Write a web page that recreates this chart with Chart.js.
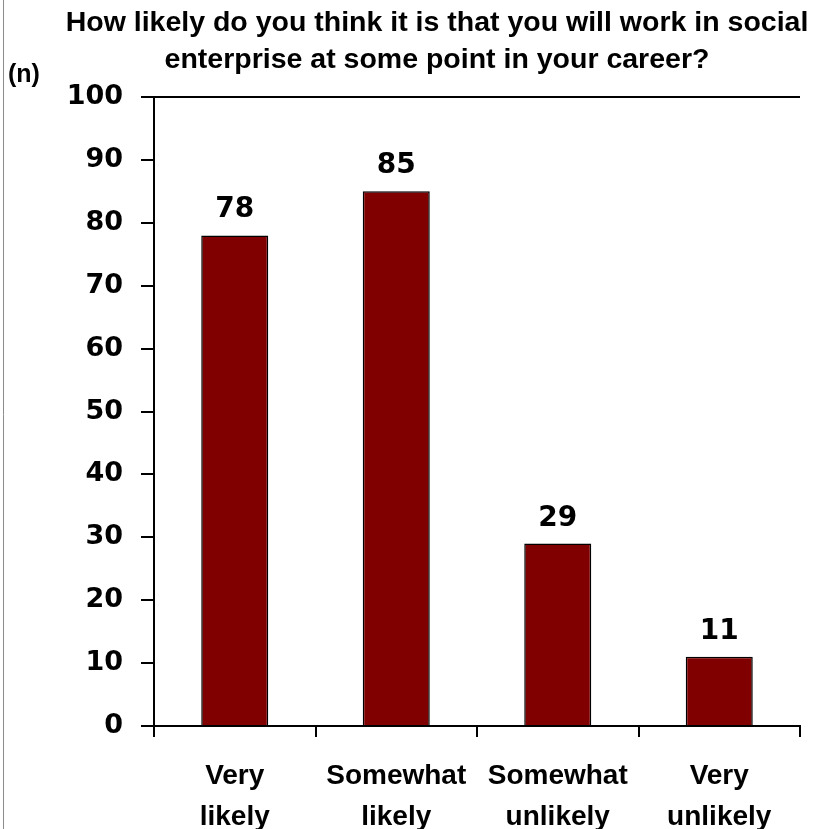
<!DOCTYPE html>
<html>
<head>
<meta charset="utf-8">
<script src="https://cdn.jsdelivr.net/npm/chart.js@4"></script>
<style>
  html, body { margin: 0; padding: 0; background: #fff; }
  #wrap { width: 831px; height: 829px; }
</style>
</head>
<body>
<div id="wrap"><canvas id="likelyChart" width="831" height="829"></canvas></div>
<script>
// Survey answers and counts
const categories = [['Very', 'likely'], ['Somewhat', 'likely'], ['Somewhat', 'unlikely'], ['Very', 'unlikely']];
const counts = [78, 85, 29, 11];
const titleLines = ['How likely do you think it is that you will work in social', 'enterprise at some point in your career?'];
const yUnit = '(n)';

// heading, value labels above bars, axis unit label and the thin frame line on the left
const extrasPlugin = {
  id: 'extras',
  afterDatasetsDraw(chart) {
    const ctx = chart.ctx;
    const meta = chart.getDatasetMeta(0);
    ctx.save();
    ctx.fillStyle = '#000';
    ctx.font = 'bold 28px "DejaVu Sans"';
    ctx.textAlign = 'center';
    ctx.textBaseline = 'alphabetic';
    meta.data.forEach((bar, i) => {
      ctx.fillText(String(counts[i]), bar.x, bar.y - 18);
    });
    ctx.restore();
  },
  afterDraw(chart) {
    const ctx = chart.ctx;
    ctx.save();
    ctx.fillStyle = '#000';
    ctx.textAlign = 'center';
    ctx.textBaseline = 'alphabetic';
    ctx.font = 'bold 28.5px "Liberation Sans"';
    ctx.fillText(titleLines[0], 437, 31);
    ctx.fillText(titleLines[1], 437, 68);

    ctx.textAlign = 'left';
    ctx.font = 'bold 25px "Liberation Sans"';
    ctx.fillText(yUnit, 8, 82);

    ctx.strokeStyle = '#8c8c8c';
    ctx.lineWidth = 1;
    ctx.beginPath();
    ctx.moveTo(3.5, 0);
    ctx.lineTo(3.5, chart.height);
    ctx.stroke();
    ctx.restore();
  }
};

const ctx = document.getElementById('likelyChart').getContext('2d');
const chart = new Chart(ctx, {
  type: 'bar',
  data: {
    labels: categories,
    datasets: [{
      data: counts,
      backgroundColor: '#800000',
      borderColor: '#000',
      borderWidth: 1.5,
      barPercentage: 0.415,
      categoryPercentage: 1
    }]
  },
  plugins: [extrasPlugin],
  options: {
    responsive: false,
    animation: false,
    layout: { padding: { left: 0, right: 31, top: 97, bottom: 0 } },
    plugins: {
      legend: { display: false },
      tooltip: { enabled: false },
      title: { display: false }
    },
    scales: {
      y: {
        min: 0,
        max: 100,
        ticks: {
          stepSize: 10,
          color: '#000',
          padding: 18,
          font: { family: '"DejaVu Sans"', size: 27, weight: 'bold' }
        },
        grid: {
          color: c => (c.tick && c.tick.value === 100 ? '#000' : 'rgba(0,0,0,0)'),
          lineWidth: 2,
          tickColor: '#000',
          tickLength: 13,
          tickWidth: 2
        },
        border: { color: '#000', width: 2 },
        afterFit(scale) { scale.width = 154; }
      },
      x: {
        offset: true,
        ticks: {
          color: '#000',
          padding: 19,
          maxRotation: 0,
          autoSkip: false,
          font: { family: '"Liberation Sans"', size: 28, weight: 'bold', lineHeight: 1.45 }
        },
        grid: {
          offset: true,
          color: c => (c.index === categories.length ? '#000' : 'rgba(0,0,0,0)'),
          lineWidth: 2,
          tickColor: '#000',
          tickLength: 11,
          tickWidth: 2
        },
        border: { color: '#000', width: 2 },
        afterFit(scale) { scale.height = 103; }
      }
    }
  }
});
</script>
</body>
</html>
